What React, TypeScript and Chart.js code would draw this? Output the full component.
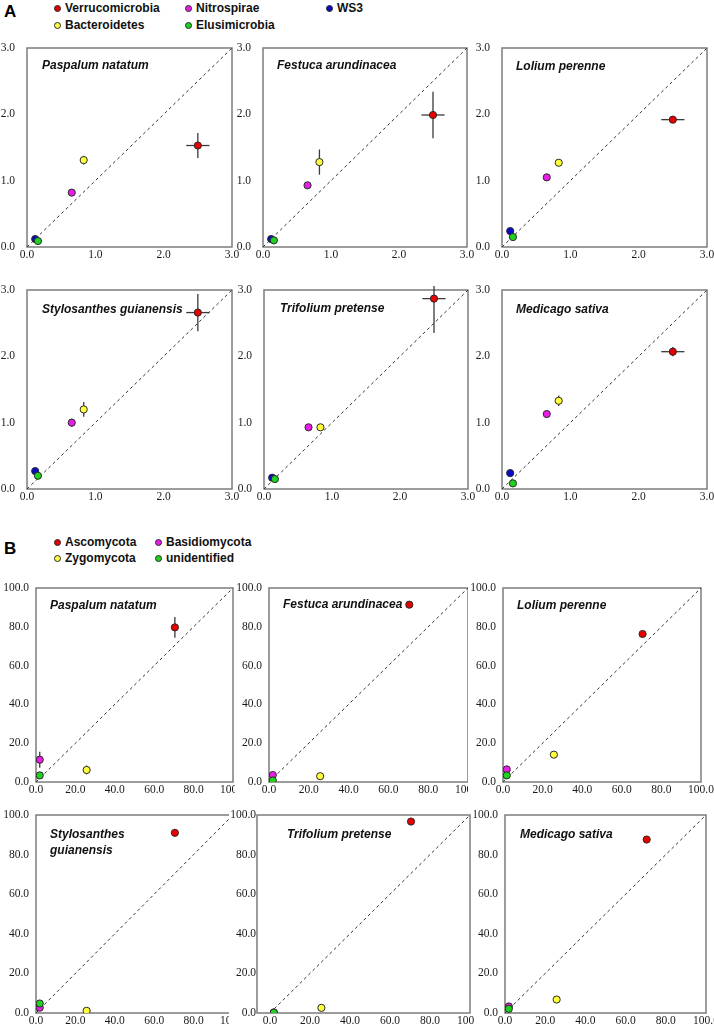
import React, { useEffect, useRef } from "react";
import { Chart, registerables } from "chart.js";

Chart.register(...registerables);

// ---------------- DATA ----------------
const plantNames = [
  "Paspalum natatum",
  "Festuca arundinacea",
  "Lolium perenne",
  "Stylosanthes guianensis",
  "Trifolium pretense",
  "Medicago sativa",
];

// Panel A: bacterial phyla (x = bulk soil, y = rhizosphere)
const bacteriaPhyla = ["Verrucomicrobia", "Bacteroidetes", "Nitrospirae", "WS3", "Elusimicrobia"];
const bacteriaColors = ["#e80000", "#ffff3c", "#e81ee8", "#0a0ac8", "#1ed21e"];
const bacteriaBulk = [2.5, 0.83, 0.655, 0.12, 0.16];
const bacteriaBulkErr = [0.17, 0, 0, 0, 0];
const bacteriaPaspalum = [1.53, 1.31, 0.82, 0.12, 0.09];
const bacteriaPaspalumErr = [0.19, 0.065, 0.03, 0, 0];
const bacteriaFestuca = [1.99, 1.28, 0.93, 0.12, 0.1];
const bacteriaFestucaErr = [0.35, 0.19, 0.03, 0, 0];
const bacteriaLolium = [1.92, 1.27, 1.05, 0.24, 0.15];
const bacteriaLoliumErr = [0.04, 0.04, 0.04, 0, 0.02];
const bacteriaStylosanthes = [2.66, 1.2, 1.0, 0.27, 0.2];
const bacteriaStylosanthesErr = [0.28, 0.11, 0.06, 0, 0];
const bacteriaTrifolium = [2.87, 0.93, 0.93, 0.17, 0.15];
const bacteriaTrifoliumErr = [0.52, 0.03, 0.04, 0, 0];
const bacteriaMedicago = [2.07, 1.33, 1.13, 0.24, 0.085];
const bacteriaMedicagoErr = [0.07, 0.08, 0.03, 0, 0];
const bacteriaTicks = ["0.0", "1.0", "2.0", "3.0"];
const bacteriaMax = 3;
const bacteriaStep = 1;

// Panel B: fungal phyla
const fungiPhyla = ["Ascomycota", "Zygomycota", "Basidiomycota", "unidentified"];
const fungiColors = ["#e80000", "#ffff3c", "#e81ee8", "#1ed21e"];
const fungiBulk = [70.5, 25.7, 1.9, 1.9];
const fungiBulkErr = [0, 0, 0, 0];
const fungiPaspalum = [79.7, 6.2, 11.5, 3.4];
const fungiPaspalumErr = [5.3, 2.3, 4.1, 0.8];
const fungiFestuca = [91.4, 3.0, 3.6, 0.8];
const fungiFestucaErr = [1.5, 0.5, 0.5, 0.3];
const fungiLolium = [76.3, 14.1, 6.5, 3.4];
const fungiLoliumErr = [0.6, 0.6, 0.6, 0.5];
const fungiStylosanthes = [91.0, 1.1, 2.7, 4.8];
const fungiStylosanthesErr = [0.6, 0.4, 0.4, 0.5];
const fungiTrifolium = [96.7, 2.6, 0.3, 0.2];
const fungiTrifoliumErr = [0.5, 0.4, 0.2, 0.2];
const fungiMedicago = [87.6, 6.8, 3.3, 2.1];
const fungiMedicagoErr = [0.6, 0.5, 0.4, 0.4];
const fungiTicks = ["0.0", "20.0", "40.0", "60.0", "80.0", "100.0"];
const fungiMax = 100;
const fungiStep = 20;

// ---------------- LAYOUT ----------------
type Layout = {
  cl: number; // canvas left
  l: number; // plot left
  t: number; // plot top
  w: number;
  h: number;
  tdx: number;
  tdy: number;
  bg: boolean;
  frameExtra?: number;
  yPad?: number;
  wrap?: boolean;
};

const layoutA: Layout[] = [
  { cl: 0, l: 27, t: 48, w: 205, h: 199, tdx: 15, tdy: 18, bg: false },
  { cl: 234, l: 263, t: 48, w: 204, h: 199, tdx: 14, tdy: 18, bg: false },
  { cl: 472, l: 502, t: 48, w: 205, h: 199, tdx: 14, tdy: 19, bg: false },
  { cl: 0, l: 27, t: 290, w: 205, h: 199, tdx: 15, tdy: 20, bg: false },
  { cl: 234, l: 264, t: 290, w: 204, h: 199, tdx: 16, tdy: 19, bg: false },
  { cl: 472, l: 502, t: 290, w: 205, h: 199, tdx: 14, tdy: 20, bg: false },
];

const layoutB: Layout[] = [
  { cl: 0, l: 36, t: 588, w: 197, h: 194, tdx: 14, tdy: 18, bg: false },
  { cl: 235, l: 269, t: 588, w: 199, h: 194, tdx: 14, tdy: 17, bg: true },
  { cl: 468, l: 503, t: 588, w: 198, h: 194, tdx: 14, tdy: 18, bg: true },
  { cl: 0, l: 36, t: 815, w: 197, h: 198, tdx: 14, tdy: 20, bg: false, wrap: true },
  { cl: 229, l: 270, t: 815, w: 200, h: 198, tdx: 30, tdy: 20, bg: true, frameExtra: 13, yPad: 14 },
  { cl: 474, l: 505, t: 815, w: 201, h: 198, tdx: 15, tdy: 20, bg: true },
];

const legendA = [
  { i: 0, x: 57, y: 8 },
  { i: 2, x: 188, y: 8 },
  { i: 3, x: 329, y: 8 },
  { i: 1, x: 57, y: 25 },
  { i: 4, x: 188, y: 25 },
];
const legendB = [
  { i: 0, x: 57, y: 542 },
  { i: 2, x: 158, y: 542 },
  { i: 1, x: 57, y: 558 },
  { i: 3, x: 158, y: 558 },
];

type PanelSpec = {
  title: string;
  bulk: number[];
  bulkErr: number[];
  values: number[];
  errs: number[];
  colors: string[];
  names: string[];
  max: number;
  step: number;
  ticks: string[];
  layout: Layout;
  tickFont: number;
  yPad: number;
  padR: number;
};

const bacteriaValues = [
  [bacteriaPaspalum, bacteriaPaspalumErr],
  [bacteriaFestuca, bacteriaFestucaErr],
  [bacteriaLolium, bacteriaLoliumErr],
  [bacteriaStylosanthes, bacteriaStylosanthesErr],
  [bacteriaTrifolium, bacteriaTrifoliumErr],
  [bacteriaMedicago, bacteriaMedicagoErr],
];
const fungiValues = [
  [fungiPaspalum, fungiPaspalumErr],
  [fungiFestuca, fungiFestucaErr],
  [fungiLolium, fungiLoliumErr],
  [fungiStylosanthes, fungiStylosanthesErr],
  [fungiTrifolium, fungiTrifoliumErr],
  [fungiMedicago, fungiMedicagoErr],
];

const panels: PanelSpec[] = [
  ...bacteriaValues.map(([v, e], k) => ({
    title: plantNames[k],
    bulk: bacteriaBulk,
    bulkErr: bacteriaBulkErr,
    values: v,
    errs: e,
    colors: bacteriaColors,
    names: bacteriaPhyla,
    max: bacteriaMax,
    step: bacteriaStep,
    ticks: bacteriaTicks,
    layout: layoutA[k],
    tickFont: 11.5,
    yPad: 12,
    padR: 12,
  })),
  ...fungiValues.map(([v, e], k) => ({
    title: plantNames[k],
    bulk: fungiBulk,
    bulkErr: fungiBulkErr,
    values: v,
    errs: e,
    colors: fungiColors,
    names: fungiPhyla,
    max: fungiMax,
    step: fungiStep,
    ticks: fungiTicks,
    layout: layoutB[k],
    tickFont: 11.5,
    yPad: layoutB[k].yPad ?? 7,
    padR: 16,
  })),
];

const PAD_T = 10;
const X_H = 20;
const SERIF = "'Liberation Serif', 'Times New Roman', serif";
const SANS = "'Liberation Sans', Arial, sans-serif";

function Panel({ spec }: { spec: PanelSpec }) {
  const ref = useRef<HTMLCanvasElement | null>(null);
  const L = spec.layout;
  const yW = L.l - L.cl;
  const W = yW + L.w + spec.padR;
  const H = PAD_T + L.h + X_H;

  useEffect(() => {
    if (!ref.current) return;
    const decor = {
      id: "decor",
      beforeDraw(chart: any) {
        if (!L.bg) return;
        const c = chart.ctx;
        c.save();
        c.fillStyle = "#ffffff";
        c.fillRect(0, 0, chart.width, chart.height);
        c.restore();
      },
      beforeDatasetsDraw(chart: any) {
        const c = chart.ctx;
        const a = chart.chartArea;
        const xs = chart.scales.x;
        const ys = chart.scales.y;
        const fe = L.frameExtra ?? 0;
        // frame
        c.save();
        c.strokeStyle = "#7c7c7c";
        c.lineWidth = 1.5;
        c.strokeRect(a.left - fe, a.top, a.right - a.left + fe, a.bottom - a.top);
        c.restore();
        // error bars
        c.save();
        c.beginPath();
        c.rect(a.left - 3, a.top - 4, a.right - a.left + 6, a.bottom - a.top + 7);
        c.clip();
        c.strokeStyle = "#3a3a3a";
        c.lineWidth = 1.3;
        spec.values.forEach((v, i) => {
          const px = xs.getPixelForValue(spec.bulk[i]);
          const py = ys.getPixelForValue(v);
          const e = spec.errs[i];
          if (e > 0) {
            c.beginPath();
            c.moveTo(px, ys.getPixelForValue(v - e));
            c.lineTo(px, ys.getPixelForValue(v + e));
            c.stroke();
          }
          const he = spec.bulkErr[i];
          if (he > 0) {
            c.beginPath();
            c.moveTo(xs.getPixelForValue(spec.bulk[i] - he), py);
            c.lineTo(xs.getPixelForValue(spec.bulk[i] + he), py);
            c.stroke();
          }
        });
        c.restore();
      },
      afterDatasetsDraw(chart: any) {
        const c = chart.ctx;
        const a = chart.chartArea;
        const fe = L.frameExtra ?? 0;
        c.save();
        c.fillStyle = "#111";
        c.font = `italic bold 12px ${SANS}`;
        c.textBaseline = "middle";
        c.textAlign = "left";
        const lines = L.wrap ? spec.title.split(" ") : [spec.title];
        lines.forEach((ln, j) => {
          c.fillText(ln, a.left - fe + L.tdx, a.top + L.tdy + j * 16);
        });
        c.restore();
      },
    };

    const datasets: any[] = [
      {
        type: "scatter",
        data: [
          { x: 0, y: 0 },
          { x: spec.max, y: spec.max },
        ],
        showLine: true,
        borderColor: "#333",
        borderWidth: 1,
        borderDash: [3, 3],
        pointRadius: 0,
        order: 100,
      },
      ...spec.names.map((name, i) => ({
        type: "scatter",
        label: name,
        data: [{ x: spec.bulk[i], y: spec.values[i] }],
        backgroundColor: spec.colors[i],
        borderColor: "#2a2a2a",
        borderWidth: 1,
        pointRadius: 3.6,
        order: -i,
      })),
    ];

    const axisCommon = (isX: boolean) => ({
      type: "linear",
      min: 0,
      max: spec.max,
      grid: { display: false, drawTicks: false },
      border: { display: false },
      ticks: {
        stepSize: spec.step,
        autoSkip: false,
        maxRotation: 0,
        padding: isX ? 1 : spec.yPad,
        color: "#1a1a1a",
        font: { family: SERIF, size: spec.tickFont },
        callback: (_v: any, idx: number) => spec.ticks[idx],
      },
      afterFit: (s: any) => {
        if (isX) {
          s.height = X_H;
          s.paddingLeft = 0;
          s.paddingRight = 0;
        } else {
          s.width = yW;
          s.paddingTop = 0;
          s.paddingBottom = 0;
        }
      },
    });

    const chart = new Chart(ref.current, {
      type: "scatter",
      data: { datasets },
      options: {
        animation: false,
        responsive: false,
        devicePixelRatio: 1,
        events: [],
        font: { family: SERIF },
        layout: { padding: { left: 0, top: PAD_T, right: spec.padR, bottom: 0 } },
        plugins: { legend: { display: false }, tooltip: { enabled: false } },
        scales: {
          x: { ...axisCommon(true), position: "bottom" },
          y: { ...axisCommon(false), position: "left" },
        },
      } as any,
      plugins: [decor],
    } as any);
    return () => chart.destroy();
  }, []);

  return (
    <canvas
      ref={ref}
      width={W}
      height={H}
      style={{ position: "absolute", left: L.cl, top: L.t - PAD_T, width: W, height: H }}
    />
  );
}

function LegendItem({ x, y, color, label }: { x: number; y: number; color: string; label: string }) {
  return (
    <>
      <span
        style={{
          position: "absolute",
          left: x - 3.5,
          top: y - 3.5,
          width: 7,
          height: 7,
          boxSizing: "border-box",
          borderRadius: "50%",
          border: "1px solid #2a2a2a",
          background: color,
        }}
      />
      <span
        style={{
          position: "absolute",
          left: x + 8,
          top: y - 7,
          font: `bold 12px ${SANS}`,
          lineHeight: "14px",
          color: "#111",
          whiteSpace: "nowrap",
        }}
      >
        {label}
      </span>
    </>
  );
}

export default function App() {
  return (
    <div
      style={{
        position: "fixed",
        left: 0,
        top: 0,
        width: 714,
        height: 1031,
        background: "#ffffff",
        overflow: "hidden",
      }}
    >
      <span style={{ position: "absolute", left: 4, top: 2, font: `bold 17px ${SANS}`, lineHeight: "20px" }}>A</span>
      <span style={{ position: "absolute", left: 4, top: 539, font: `bold 17px ${SANS}`, lineHeight: "20px" }}>B</span>
      {legendA.map((it) => (
        <LegendItem key={"a" + it.i} x={it.x} y={it.y} color={bacteriaColors[it.i]} label={bacteriaPhyla[it.i]} />
      ))}
      {legendB.map((it) => (
        <LegendItem key={"b" + it.i} x={it.x} y={it.y} color={fungiColors[it.i]} label={fungiPhyla[it.i]} />
      ))}
      {panels.map((p, k) => (
        <Panel key={k} spec={p} />
      ))}
    </div>
  );
}
